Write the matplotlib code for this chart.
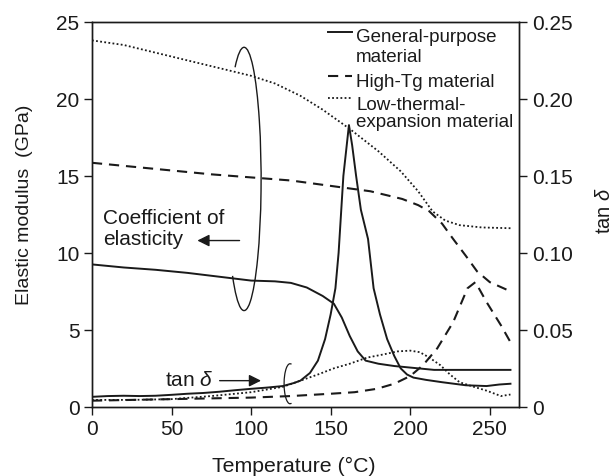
import matplotlib
matplotlib.use("Agg")
import matplotlib.pyplot as plt
from matplotlib.patches import Arc

plt.rcParams['font.family'] = ['Liberation Sans', 'DejaVu Sans']
plt.rcParams['mathtext.fontset'] = 'custom'
plt.rcParams['mathtext.it'] = 'Liberation Sans:italic'
plt.rcParams['mathtext.rm'] = 'Liberation Sans'

INK = "#1a1a1a"

# elastic modulus (GPa), left axis
gp_mod_T = [0, 20, 40, 60, 80, 100, 115, 125, 135, 145, 152, 157, 162, 167, 172, 180, 190, 200, 215, 230, 250, 263]
gp_mod = [9.25, 9.05, 8.9, 8.7, 8.45, 8.2, 8.15, 8.05, 7.75, 7.2, 6.7, 5.8, 4.6, 3.6, 3.0, 2.8, 2.65, 2.55, 2.4, 2.4, 2.4, 2.4]
ht_mod_T = [0, 25, 50, 75, 100, 125, 150, 175, 195, 205, 212, 220, 227, 235, 242, 250, 263]
ht_mod = [15.85, 15.6, 15.35, 15.1, 14.9, 14.7, 14.35, 14.0, 13.5, 13.1, 12.7, 11.9, 10.9, 9.8, 8.8, 8.1, 7.5]
lt_mod_T = [0, 20, 40, 60, 80, 100, 115, 131, 145, 162, 180, 194, 205, 214, 222, 231, 245, 263]
lt_mod = [23.8, 23.5, 23.0, 22.5, 22.0, 21.5, 21.0, 20.2, 19.3, 18.05, 16.6, 15.3, 14.0, 12.7, 12.1, 11.8, 11.65, 11.6]

# tan delta, right axis
gp_tan_T = [0, 10, 20, 30, 40, 50, 60, 70, 80, 90, 100, 110, 120, 127, 131, 137, 142, 146.5, 150, 153, 155, 158,
            161.5, 163.5, 166, 169, 173.5, 177, 181, 185.5, 190, 194, 198, 202, 210, 220, 235, 248, 256, 263]
gp_tan = [0.0065, 0.007, 0.0072, 0.007, 0.0072, 0.0078, 0.0085, 0.009, 0.0098, 0.0108, 0.0117, 0.0125, 0.0135,
          0.0155, 0.017, 0.022, 0.03, 0.044, 0.06, 0.077, 0.1, 0.15, 0.183, 0.17, 0.15, 0.128, 0.109, 0.077,
          0.06, 0.044, 0.033, 0.025, 0.021, 0.019, 0.0175, 0.016, 0.014, 0.0135, 0.0145, 0.015]
ht_tan_T = [0, 25, 50, 75, 100, 125, 150, 165, 179, 190, 200, 208, 217, 227, 236, 241, 248, 257, 263]
ht_tan = [0.004, 0.0045, 0.005, 0.0055, 0.006, 0.007, 0.0085, 0.0095, 0.0117, 0.015, 0.02, 0.027, 0.038, 0.055,
          0.077, 0.081, 0.068, 0.053, 0.042]
lt_tan_T = [0, 25, 50, 75, 100, 120, 131, 142, 152, 162, 173, 183, 192, 200, 206, 212, 219, 225, 231, 240, 248, 257, 263]
lt_tan = [0.0045, 0.0045, 0.005, 0.007, 0.0095, 0.013, 0.017, 0.021, 0.025, 0.028, 0.032, 0.034, 0.036, 0.0365,
          0.0355, 0.032, 0.027, 0.021, 0.016, 0.013, 0.0105, 0.007, 0.008]

labels = ["General-purpose\nmaterial", "High-Tg material", "Low-thermal-\nexpansion material"]
x_ticks = [0, 50, 100, 150, 200, 250]
left_ticks = [0, 5, 10, 15, 20, 25]
right_ticks = [0, 0.05, 0.10, 0.15, 0.20, 0.25]
right_labels = ["0", "0.05", "0.10", "0.15", "0.20", "0.25"]

SOLID = "-"
DASH = (0, (4.9, 3.3))
DOT = (0, (1, 1.3))
styles = [SOLID, DASH, DOT]
widths = [1.4, 1.5, 1.3]

fig = plt.figure(figsize=(6.13, 4.77), dpi=100)
ax = fig.add_axes([0.150, 0.145, 0.697, 0.807])
ax2 = ax.twinx()

ax.plot(gp_mod_T, gp_mod, color=INK, lw=widths[0], ls=SOLID)
ax.plot(ht_mod_T, ht_mod, color=INK, lw=widths[1], ls=DASH)
ax.plot(lt_mod_T, lt_mod, color=INK, lw=widths[2], ls=DOT)

ax2.plot(gp_tan_T, gp_tan, color=INK, lw=widths[0], ls=SOLID)
ax2.plot(ht_tan_T, ht_tan, color=INK, lw=widths[1], ls=DASH)
ax2.plot(lt_tan_T, lt_tan, color=INK, lw=widths[2], ls=DOT)

ax.set_xlim(0, 268.5)
ax.set_ylim(0, 25)
ax2.set_ylim(0, 0.25)
ax.set_xticks(x_ticks)
ax.set_yticks(left_ticks)
ax2.set_yticks(right_ticks)
ax2.set_yticklabels(right_labels)

for a in (ax, ax2):
    a.tick_params(direction="out", length=6, width=1, labelsize=15, colors=INK, pad=3)
    for s in a.spines.values():
        s.set_color(INK)
        s.set_linewidth(1)

ax.set_xlabel("Temperature (\u00b0C)", fontsize=15.3, color=INK)
ax.set_ylabel("Elastic modulus  (GPa)", fontsize=14, color=INK)
ax2.set_ylabel(r"tan $\delta$", fontsize=14.5, color=INK)
ax.xaxis.set_label_coords(0.473, -0.128)
ax.yaxis.set_label_coords(-0.138, 0.527)
ax2.yaxis.set_label_coords(1.178, 0.512)

# hand-placed legend (line spacing in the original is uneven)
handle_y = [0.974, 0.859, 0.802]
text_rows = [[0.9506, 0.8987], [0.8325], [0.7740, 0.7286]]
for lab, ls, lw, hy, rows in zip(labels, styles, widths, handle_y, text_rows):
    ax2.plot([0.5527, 0.6089], [hy, hy], transform=ax2.transAxes, color=INK,
             lw=lw, ls=ls, clip_on=False)
    for line, ty in zip(lab.split("\n"), rows):
        ax2.text(0.6183, ty, line, transform=ax2.transAxes, fontsize=13.5,
                 color=INK, ha="left", va="baseline")

# annotations
ax.text(7, 11.6, "Coefficient of\nelasticity", fontsize=15, color=INK,
        va="center", ha="left", linespacing=1.15)
ax.annotate("", xy=(64.5, 10.8), xytext=(94.5, 10.8),
            arrowprops=dict(arrowstyle="-|>", color=INK, lw=1, mutation_scale=18))
ax.add_patch(Arc((95.6, 14.8), 21.4, 17.1, theta1=221, theta2=128, color=INK, lw=1))

ax.text(46, 1.8, r"tan $\delta$", fontsize=15, color=INK, va="center", ha="left")
ax.annotate("", xy=(108, 1.7), xytext=(78.5, 1.7),
            arrowprops=dict(arrowstyle="-|>", color=INK, lw=1, mutation_scale=18))
ax.add_patch(Arc((124.5, 1.5), 7.5, 2.6, theta1=55, theta2=305, color=INK, lw=0.9))

fig.savefig("out.png", dpi=100)
